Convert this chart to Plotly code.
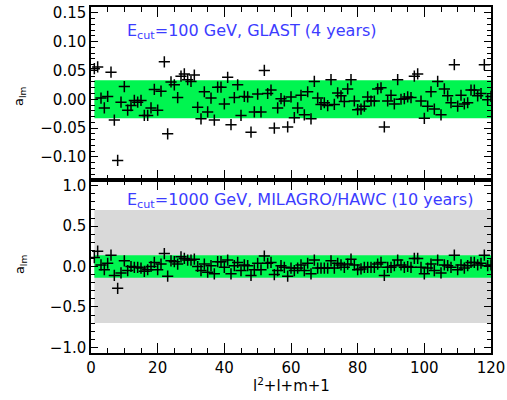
import plotly.graph_objects as go

x_idx = list(range(1, 121))

a_lm_glast = [
    0.053, 0.056, 0.002, -0.015, 0.005, 0.047, -0.036, -0.106, -0.005, 0.022,
    -0.019, -0.011, -0.002, -0.005, -0.002, -0.028, -0.028, -0.015, 0.017, -0.019,
    0.014, 0.065, -0.060, 0.030, 0.025, 0.003, 0.040, 0.044, 0.034, 0.031,
    0.042, -0.014, -0.034, 0.013, -0.022, 0.002, -0.036, 0.021, 0.021, -0.008,
    0.038, -0.044, 0.003, 0.025, -0.028, 0.005, 0.004, -0.057, -0.022, 0.009,
    -0.022, 0.050, 0.010, 0.016, -0.050, -0.015, 0.001, -0.003, -0.048, 0.004,
    -0.032, -0.015, 0.007, -0.027, 0.013, -0.034, 0.031, 0.002, -0.009, -0.006,
    -0.011, 0.034, -0.009, 0.011, 0.006, -0.004, 0.018, 0.034, -0.003, -0.018,
    -0.017, -0.012, 0.004, -0.003, -0.003, 0.018, 0.020, -0.048, -0.003, 0.007,
    -0.008, 0.034, 0.000, 0.001, 0.004, 0.003, 0.040, 0.044, -0.003, -0.033,
    -0.012, 0.013, -0.017, 0.031, -0.027, 0.018, 0.006, -0.006, 0.060, -0.012,
    0.007, -0.008, -0.006, 0.016, 0.016, 0.006, 0.010, 0.060, -0.001, 0.005,
]

a_lm_hawc = [
    0.11, 0.19, 0.02, -0.04, 0.04, 0.14, -0.11, -0.27, -0.08, 0.07,
    -0.05, 0.00, -0.01, -0.01, -0.02, -0.06, -0.04, 0.00, 0.05, -0.04,
    0.03, 0.16, -0.12, 0.07, 0.06, 0.03, 0.12, 0.10, 0.08, 0.08,
    0.09, 0.00, -0.05, 0.03, -0.07, 0.01, -0.09, 0.06, 0.06, -0.01,
    0.08, -0.09, 0.01, 0.05, -0.05, 0.02, 0.01, -0.11, -0.04, 0.04,
    -0.04, 0.13, 0.04, 0.05, -0.10, -0.05, 0.01, -0.01, -0.12, -0.02,
    -0.05, -0.02, 0.02, -0.05, 0.04, -0.09, 0.08, -0.02, -0.02, -0.02,
    -0.02, 0.07, -0.02, 0.04, 0.02, -0.01, 0.03, 0.09, 0.02, -0.04,
    -0.03, -0.01, -0.01, -0.01, -0.01, 0.03, 0.05, -0.11, -0.01, -0.01,
    0.01, 0.08, 0.02, -0.01, 0.00, -0.01, 0.10, 0.10, -0.01, -0.09,
    -0.02, 0.03, -0.05, 0.08, -0.08, 0.02, 0.01, -0.01, 0.14, -0.04,
    0.02, -0.02, 0.01, 0.05, 0.05, 0.02, 0.04, 0.14, 0.01, 0.02,
]

glast_band = 0.033
hawc_band = 0.14
hawc_gray = 0.70

title_top = "E<sub>cut</sub>=100 GeV, GLAST (4 years)"
title_bot = "E<sub>cut</sub>=1000 GeV, MILAGRO/HAWC (10 years)"
ylab = "a<sub>lm</sub>"
xlab = "l<sup>2</sup>+l+m+1"

FONT = "DejaVu Sans"
GREEN = "#00f550"
GRAY = "#d9d9d9"
BLUE = "#3c3cff"

fig = go.Figure()

marker = dict(symbol="cross-thin", size=8, line=dict(color="black", width=1.5), color="black")

fig.add_trace(go.Scatter(x=x_idx, y=a_lm_glast, mode="markers", marker=marker,
                         xaxis="x", yaxis="y", showlegend=False))
fig.add_trace(go.Scatter(x=x_idx, y=a_lm_hawc, mode="markers", marker=marker,
                         xaxis="x2", yaxis="y2", showlegend=False))

shapes = [
    dict(type="rect", xref="x", yref="y", x0=x_idx[0], x1=x_idx[-1],
         y0=-glast_band, y1=glast_band, fillcolor=GREEN, line=dict(width=0), layer="below"),
    dict(type="rect", xref="x2", yref="y2", x0=x_idx[0], x1=x_idx[-1],
         y0=-hawc_gray, y1=hawc_gray, fillcolor=GRAY, line=dict(width=0), layer="below"),
    dict(type="rect", xref="x2", yref="y2", x0=x_idx[0], x1=x_idx[-1],
         y0=-hawc_band, y1=hawc_band, fillcolor=GREEN, line=dict(width=0), layer="below"),
]

axis_common = dict(showline=True, linecolor="black", linewidth=1.5, mirror="allticks",
                   ticks="inside", tickcolor="black", showgrid=False, zeroline=False,
                   automargin=False, ticklabeloverflow="allow",
                   tickfont=dict(family=FONT, size=15, color="black"))

xcommon = dict(axis_common, range=[0, 120], dtick=20, tick0=0, ticklen=10, tickwidth=1,
               minor=dict(dtick=5, ticklen=5, ticks="inside", tickcolor="black", tickwidth=1, showgrid=False))

fig.update_layout(
    width=507, height=400,
    margin=dict(l=91, r=16, t=7, b=47),
    paper_bgcolor="white", plot_bgcolor="white",
    shapes=shapes,
    xaxis=dict(xcommon, domain=[0, 1], anchor="y", showticklabels=False),
    yaxis=dict(axis_common, domain=[0.5, 1], anchor="x", range=[-0.14, 0.16],
               dtick=0.05, tick0=0, tickformat=".2f", ticklen=7, tickwidth=1,
               minor=dict(dtick=0.01, ticklen=4, ticks="inside", tickcolor="black", tickwidth=1, showgrid=False)),
    xaxis2=dict(xcommon, domain=[0, 1], anchor="y2"),
    yaxis2=dict(axis_common, domain=[0, 0.5], anchor="x2", range=[-1.07, 1.07],
                dtick=0.5, tick0=0, tickformat=".1f", ticklen=7, tickwidth=1,
                minor=dict(dtick=0.1, ticklen=4, ticks="inside", tickcolor="black", tickwidth=1, showgrid=False)),
    annotations=[
        dict(text=title_top, xref="paper", yref="paper", x=0.085, y=0.928, xanchor="left", yanchor="middle",
             showarrow=False, font=dict(family=FONT, size=16, color=BLUE)),
        dict(text=title_bot, xref="paper", yref="paper", x=0.085, y=0.442, xanchor="left", yanchor="middle",
             showarrow=False, font=dict(family=FONT, size=16, color=BLUE)),
        dict(text=ylab, xref="paper", yref="paper", x=-0.1775, y=0.74, xanchor="center", yanchor="middle",
             textangle=-90, showarrow=False, font=dict(family=FONT, size=13, color="black")),
        dict(text=ylab, xref="paper", yref="paper", x=-0.1775, y=0.254, xanchor="center", yanchor="middle",
             textangle=-90, showarrow=False, font=dict(family=FONT, size=13, color="black")),
        dict(text=xlab, xref="paper", yref="paper", x=0.5, y=-0.0925, xanchor="center", yanchor="middle",
             showarrow=False, font=dict(family=FONT, size=15, color="black")),
    ],
)

# remove the browser's default 8px body margin so the 507x400 figure fills the window exactly
fig.write_html("out.html", config={"displayModeBar": False},
               post_script="document.body.style.margin='0';")
